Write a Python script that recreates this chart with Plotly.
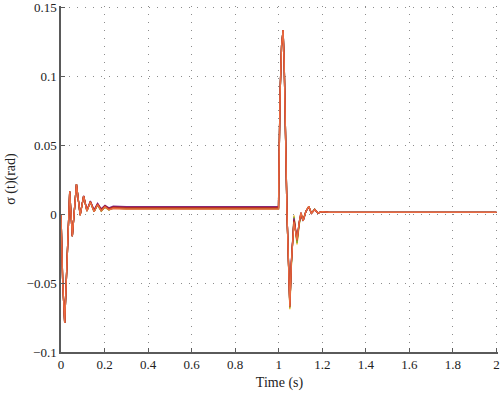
import plotly.graph_objects as go

# Shared time samples (s)
time_s = [0, 0.008, 0.017, 0.028, 0.040, 0.052, 0.062, 0.071, 0.088, 0.104,
          0.119, 0.135, 0.152, 0.168, 0.185, 0.202, 0.22, 0.24, 0.3, 0.5,
          0.7, 0.9, 0.999, 1.001, 1.006, 1.013, 1.020, 1.025, 1.030, 1.038,
          1.051, 1.058, 1.070, 1.084, 1.094, 1.102, 1.112, 1.125, 1.138, 1.150,
          1.165, 1.180, 1.2, 1.23, 1.3, 1.6, 2.0]

# sigma(t) in rad for each simulated case
sig_blue = [0, -0.050, -0.079, -0.035, 0.0164, -0.0160, 0.0043, 0.0215, -0.0008, 0.0130,
            0.0022, 0.0088, 0.0017, 0.0067, 0.0022, 0.0051, 0.0031, 0.0043, 0.0040, 0.0040,
            0.0040, 0.0040, 0.0040, 0.031, 0.086, 0.122, 0.1333, 0.110, 0.060, 0.000,
            -0.066, -0.036, -0.004, -0.020, -0.007, -0.001, -0.005, 0.002, 0.0052, 0.0006,
            0.0034, 0.0008, 0.0018, 0.0012, 0.0012, 0.0012, 0.0012]
sig_yellow = [0, -0.050, -0.079, -0.035, 0.0164, -0.0160, 0.0043, 0.0215, -0.0008, 0.0130,
              0.0021, 0.0087, 0.0016, 0.0066, 0.0021, 0.0050, 0.0030, 0.0042, 0.0038, 0.0038,
              0.0038, 0.0038, 0.0038, 0.031, 0.086, 0.122, 0.1333, 0.110, 0.060, 0.000,
              -0.069, -0.038, -0.001, -0.022, -0.008, 0.000, -0.004, 0.002, 0.0055, 0.0005,
              0.0036, 0.0007, 0.0018, 0.0012, 0.0012, 0.0012, 0.0012]
sig_green = [0, -0.050, -0.079, -0.035, 0.0164, -0.0160, 0.0043, 0.0215, -0.0008, 0.0130,
             0.0021, 0.0087, 0.0016, 0.0066, 0.0021, 0.0050, 0.0031, 0.0043, 0.0040, 0.0040,
             0.0040, 0.0040, 0.0040, 0.031, 0.086, 0.122, 0.1333, 0.110, 0.060, 0.000,
             -0.068, -0.037, -0.002, -0.021, -0.007, -0.001, -0.004, 0.002, 0.0054, 0.0005,
             0.0035, 0.0007, 0.0018, 0.0012, 0.0012, 0.0012, 0.0012]
sig_purple = [0, -0.050, -0.079, -0.035, 0.0164, -0.0160, 0.0045, 0.0216, -0.0005, 0.0132,
              0.0030, 0.0094, 0.0030, 0.0078, 0.0038, 0.0064, 0.0045, 0.0057, 0.0053, 0.0053,
              0.0053, 0.0053, 0.0053, 0.031, 0.086, 0.122, 0.1333, 0.110, 0.060, 0.000,
              -0.066, -0.034, -0.003, -0.018, -0.006, 0.001, -0.005, 0.002, 0.0052, 0.0005,
              0.0033, 0.0008, 0.0018, 0.0012, 0.0012, 0.0012, 0.0012]
sig_darkred = [0, -0.050, -0.079, -0.035, 0.0164, -0.0160, 0.0044, 0.0215, -0.0007, 0.0131,
               0.0026, 0.0091, 0.0025, 0.0074, 0.0032, 0.0060, 0.0040, 0.0052, 0.0048, 0.0048,
               0.0048, 0.0048, 0.0048, 0.031, 0.086, 0.122, 0.1333, 0.110, 0.060, 0.000,
               -0.067, -0.035, -0.004, -0.019, -0.006, 0.000, -0.005, 0.002, 0.0053, 0.0005,
               0.0033, 0.0008, 0.0018, 0.0012, 0.0012, 0.0012, 0.0012]
sig_red = [0, -0.050, -0.079, -0.035, 0.0164, -0.0160, 0.0043, 0.0215, -0.0008, 0.0130,
           0.0023, 0.0089, 0.0020, 0.0070, 0.0027, 0.0055, 0.0035, 0.0047, 0.0043, 0.0043,
           0.0043, 0.0043, 0.0043, 0.031, 0.086, 0.122, 0.1333, 0.110, 0.060, 0.000,
           -0.067, -0.035, -0.005, -0.019, -0.006, 0.001, -0.005, 0.002, 0.0054, 0.0005,
           0.0032, 0.0008, 0.0018, 0.0012, 0.0012, 0.0012, 0.0012]
sig_orange = [0, -0.050, -0.079, -0.035, 0.0165, -0.0160, 0.0042, 0.0215, -0.0010, 0.0130,
              0.0020, 0.0088, 0.0016, 0.0068, 0.0022, 0.0052, 0.0030, 0.0040, 0.0035, 0.0035,
              0.0035, 0.0035, 0.0035, 0.031, 0.086, 0.122, 0.1333, 0.110, 0.060, 0.000,
              -0.067, -0.035, -0.006, -0.019, -0.006, 0.001, -0.005, 0.002, 0.0055, 0.0005,
              0.0033, 0.0008, 0.0018, 0.0012, 0.0012, 0.0012, 0.0012]

series = [
    ("case 1", sig_blue, "#0072BD"),
    ("case 2", sig_yellow, "#EDB120"),
    ("case 3", sig_green, "#77AC30"),
    ("case 4", sig_purple, "#7E2F8E"),
    ("case 5", sig_darkred, "#A2142F"),
    ("case 6", sig_red, "#C8431C"),
    ("case 7", sig_orange, "#EA6B42"),
]

x_ticks = [0, 0.2, 0.4, 0.6, 0.8, 1.0, 1.2, 1.4, 1.6, 1.8, 2.0]
x_tick_text = ["0", "0.2", "0.4", "0.6", "0.8", "1", "1.2", "1.4", "1.6", "1.8", "2"]
y_ticks = [-0.1, -0.05, 0, 0.05, 0.1, 0.15]
y_tick_text = ["\u22120.1", "\u22120.05", "0", "0.05", "0.1", "0.15"]

fig = go.Figure()
for name, vals, color in series:
    fig.add_trace(go.Scatter(
        x=time_s, y=vals, mode="lines", name=name,
        line=dict(color=color, width=1.3),
        showlegend=False, hoverinfo="skip"))

font_family = "Liberation Serif, Times New Roman, serif"
axis_common = dict(
    showline=True, linecolor="#5a5a5a", linewidth=1.5,
    ticks="inside", ticklen=4, tickcolor="#5a5a5a", tickwidth=1,
    showgrid=True, gridcolor="#8c8c8c", gridwidth=1, griddash="1px,7px",
    zeroline=False, mirror=False, ticklabeloverflow="allow",
    tickfont=dict(family=font_family, size=13, color="#222"),
)
fig.update_xaxes(range=[0, 2.007], tickvals=x_ticks, ticktext=x_tick_text,
                 title=dict(text="Time (s)", font=dict(family=font_family, size=14, color="#222"), standoff=6),
                 **axis_common)
fig.update_yaxes(range=[-0.1, 0.1508], tickvals=y_ticks, ticktext=y_tick_text,
                 title=dict(text="\u03c3 (t)(rad)", font=dict(family=font_family, size=14, color="#222"), standoff=8),
                 **axis_common)

fig.update_layout(
    width=500, height=393,
    margin=dict(l=61, r=2, t=6, b=41, autoexpand=False),
    paper_bgcolor="white", plot_bgcolor="white",
    showlegend=False,
)

fig.write_html("out.html", config={"displayModeBar": False},
               post_script="document.body.style.margin='0';document.body.style.overflow='hidden';")
